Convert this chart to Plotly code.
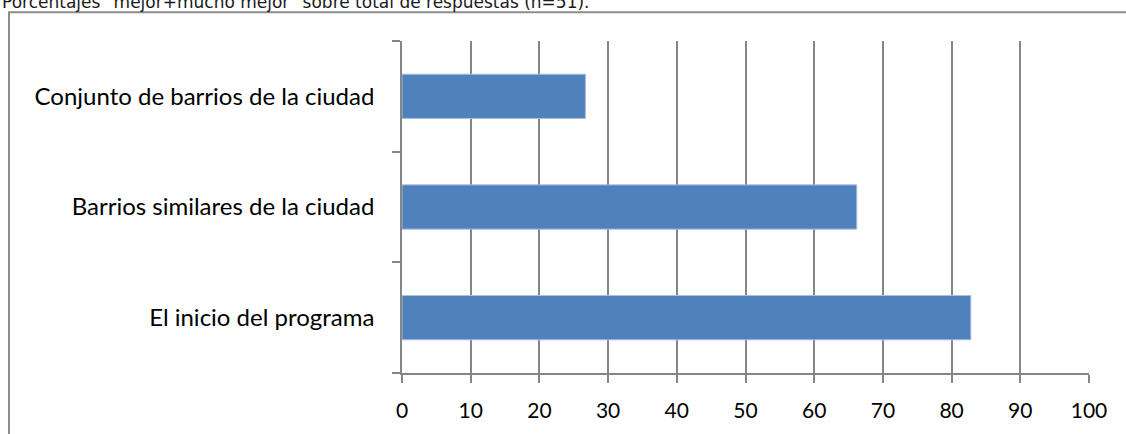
import plotly.graph_objects as go

# Survey results: share of "mejor + mucho mejor" answers per comparison
categorias = [
    "El inicio del programa",
    "Barrios similares de la ciudad",
    "Conjunto de barrios de la ciudad",
]
porcentajes = [82.8, 66.2, 26.7]
x_ticks = [0, 10, 20, 30, 40, 50, 60, 70, 80, 90, 100]
subtitulo = 'Porcentajes "mejor+mucho mejor" sobre total de respuestas (n=51).'

W, H = 1126, 434
L, R, T, B = 402, 37, 41, 58
pw, ph = W - L - R, H - T - B

GRID = "#868686"
BAR = "#4F81BD"

fig = go.Figure(
    go.Bar(
        x=porcentajes,
        y=categorias,
        orientation="h",
        marker=dict(color=BAR, line=dict(color="#a9c0de", width=1)),
        hoverinfo="x+y",
    )
)


def px_x(p):
    return (p - L) / pw


def px_y(p):
    return 1 - (p - T) / ph


fig.update_layout(
    width=W,
    height=H,
    margin=dict(l=L, r=R, t=T, b=B),
    paper_bgcolor="white",
    plot_bgcolor="white",
    showlegend=False,
    bargap=0.6,
    font=dict(family="Lato", color="#000000"),
    xaxis=dict(
        range=[0, 100],
        tickvals=x_ticks,
        ticktext=[str(v) for v in x_ticks],
        showgrid=True,
        gridcolor=GRID,
        gridwidth=1.6,
        showline=True,
        linecolor=GRID,
        linewidth=1.6,
        ticks="outside",
        ticklen=8,
        tickwidth=1.6,
        tickcolor=GRID,
        tickfont=dict(family="Lato", size=21, color="#000000"),
        ticklabelstandoff=10,
        zeroline=False,
        fixedrange=True,
    ),
    yaxis=dict(
        type="category",
        categoryorder="array",
        categoryarray=categorias,
        tickson="boundaries",
        showgrid=False,
        showline=True,
        linecolor=GRID,
        linewidth=1.6,
        ticks="outside",
        ticklen=8,
        tickwidth=1.6,
        tickcolor=GRID,
        tickfont=dict(family="Lato", size=24, color="#000000"),
        ticklabelstandoff=21,
        zeroline=False,
        fixedrange=True,
    ),
    shapes=[
        # chart-area frame
        dict(
            type="rect",
            xref="paper",
            yref="paper",
            x0=px_x(9),
            x1=px_x(W + 20),
            y0=px_y(H + 20),
            y1=px_y(12),
            line=dict(color="#8c8c8c", width=2),
            fillcolor="rgba(0,0,0,0)",
            layer="below",
        )
    ],
    annotations=[
        dict(
            text=subtitulo,
            xref="paper",
            yref="paper",
            x=px_x(0),
            y=px_y(2),
            xanchor="left",
            yanchor="middle",
            showarrow=False,
            font=dict(family="DejaVu Sans", size=17, color="#1a1a1a"),
        )
    ],
)

fig.write_html("out.html")
